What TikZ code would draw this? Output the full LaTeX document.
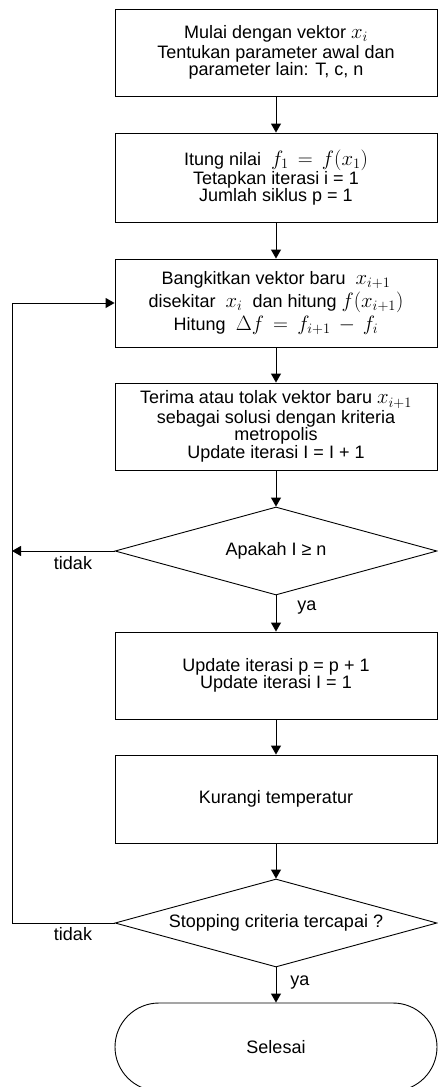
\documentclass[tikz,border=0pt]{standalone}
\usepackage[no-math]{fontspec}
\setmainfont{Liberation Sans}
\usetikzlibrary{shapes.geometric,arrows.meta}
\newcommand\mm[1]{{\fontsize{20.5}{17.5}\selectfont$#1$}}
\begin{document}
\begin{tikzpicture}[x=1pt,y=-1pt,
  every node/.style={font=\fontsize{18}{17.5}\selectfont},
  proc/.style={draw, line width=0.9pt, minimum width=322pt, minimum height=#1, align=center, inner sep=0pt},
  proc/.default=88pt,
  dec/.style={draw, line width=0.9pt, diamond, shape aspect=3.66, minimum width=322pt, minimum height=88pt, inner sep=0pt},
  term/.style={draw, line width=0.9pt, rounded corners=44pt, minimum width=322pt, minimum height=88pt, inner sep=0pt},
  arr/.style={line width=0.9pt, -{Triangle[width=10pt,length=9pt]}},
  lbl/.style={inner sep=0pt}
]
\useasboundingbox (0,0) rectangle (438,1087);

\node[proc=87pt] (b1) at (276,52.5) {Mulai dengan vektor \mm{x_i}\\[2pt]Tentukan parameter awal dan\\parameter lain: T, c, n};
\node[proc=89pt] (b2) at (276,177.5) {Itung nilai \ \mm{f_1 \,=\, f(x_1)}\\Tetapkan iterasi i = 1\\Jumlah siklus p = 1};
\node[proc=88pt] (b3) at (276,303) {Bangkitkan vektor baru \ \mm{x_{i+1}}\\[2pt]disekitar \ \mm{x_i} \ dan hitung \mm{f(x_{i+1})}\\[2pt]Hitung \ \mm{\Delta f \,=\, f_{i+1} \,-\, f_i}};
\node[proc=87pt] (b4) at (276,426.5) {Terima atau tolak vektor baru \mm{x_{i+1}}\\[2pt]sebagai solusi dengan kriteria\\metropolis\\Update iterasi I = I + 1};
\node[dec] (d1) at (276,551) {Apakah I ≥ n};
\node[proc=87pt] (b5) at (276,675.5) {Update iterasi p = p + 1\\Update iterasi I = 1};
\node[proc=88pt] (b6) at (276,799) {Kurangi temperatur};
\node[dec] (d2) at (276,923) {Stopping criteria tercapai ?};
\node[term] (e) at (276,1047) {Selesai};

\coordinate (L) at (12,0);

\draw[arr] (b1) -- (b2);
\draw[arr] (b2) -- (b3);
\draw[arr] (b3) -- (b4);
\draw[arr] (b4) -- (d1);
\draw[arr] (d1) -- (b5);
\draw[arr] (b5) -- (b6);
\draw[arr] (b6) -- (d2);
\draw[arr] (d2) -- (e);

\draw[arr] (d1.west) -- (d1.west -| L);
\draw[arr] (d2.west) -- (d2.west -| L) -- (b3.west -| L) -- (b3.west);

\node[lbl] (t1) at (73,563) {tidak};
\node[lbl] (t2) at (73,934) {tidak};
\node[lbl] (y1) at (307,608) {ya};
\node[lbl] (y2) at (300,983) {ya};
\end{tikzpicture}
\end{document}
